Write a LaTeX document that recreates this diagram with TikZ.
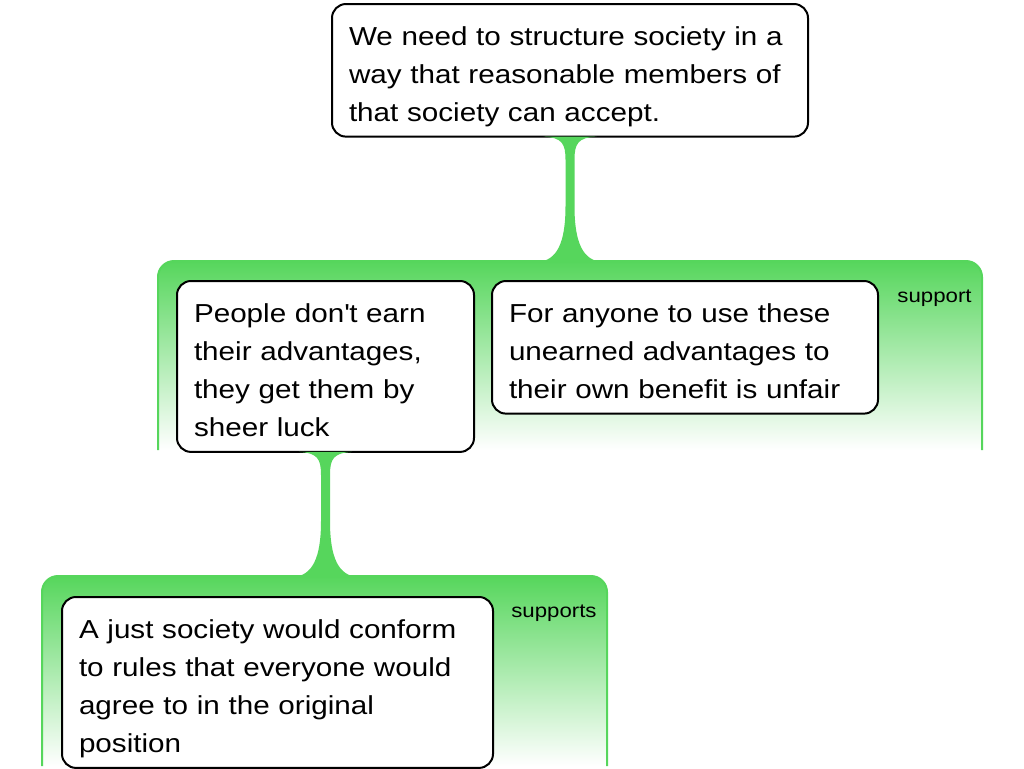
\documentclass[tikz,border=0pt]{standalone}
\usepackage{fontspec}
\setmainfont{Liberation Sans}[FakeStretch=1.14]
\usetikzlibrary{calc}

\definecolor{linkgreen}{RGB}{86,214,92}

% green stalk from a box down to the panel below it
\newcommand\stalk[2]{%
\fill[linkgreen] ($(#1)+(-26.5,-1)$) .. controls ($(#1)+(-8,0)$) and ($(#1)+(-4.5,6)$) .. ($(#1)+(-4.5,22)$)
  -- ($(#2)+(-4.5,-55)$) .. controls ($(#2)+(-4.5,-18)$) and ($(#2)+(-13,0)$) .. ($(#2)+(-33,1)$)
  -- ($(#2)+(33,1)$) .. controls ($(#2)+(13,0)$) and ($(#2)+(4.5,-18)$) .. ($(#2)+(4.5,-55)$)
  -- ($(#1)+(4.5,22)$) .. controls ($(#1)+(4.5,6)$) and ($(#1)+(8,0)$) .. ($(#1)+(26.5,-1)$) -- cycle;}

\begin{document}
\begin{tikzpicture}[x=.5pt, y=-.5pt,
  claim/.style={draw, fill=white, line width=1pt, rounded corners=7pt, anchor=north west,
    inner xsep=8.5pt, inner ysep=0pt, align=left, font=\fontsize{13}{19.15}\selectfont,
    execute at begin node=\rule{0pt}{20.5pt}, execute at end node=\rule[-7.5pt]{0pt}{7.5pt}},
  panel/.style={draw=linkgreen, line width=1pt, top color=linkgreen, bottom color=white, rounded corners=8pt},
  tag/.style={font=\fontsize{9.75}{11}\selectfont, inner sep=0pt, anchor=base east}]

\useasboundingbox (0,0) rectangle (1024,768);

\path[panel] (158,450)--(158,261)--(982,261)--(982,450);
\path[panel] (42,766)--(42,576)--(607,576)--(607,766);

\node (c1) [claim, text width=221pt] at (331,3) {We need to structure society in a\\way that reasonable members of\\that society can accept.};

\node (c2) [claim, text width=131.5pt] at (176,280) {People don\textquotesingle t earn\\their advantages,\\they get them by\\sheer luck};
\node (c3) [claim, text width=176pt] at (491,280) {For anyone to use these\\unearned advantages to\\their own benefit is unfair};

\node (c4) [claim, text width=198.5pt] at (61,596) {A just society would conform\\to rules that everyone would\\agree to in the original\\position};

\coordinate (j1) at (c1.south |- 0,261);
\coordinate (j2) at (c2.south |- 0,576);
\stalk{c1.south}{j1}
\stalk{c2.south}{j2}

\node (t1) [tag] at (972,302) {support};
\node (t2) [tag] at (597,617) {supports};

\end{tikzpicture}
\end{document}
